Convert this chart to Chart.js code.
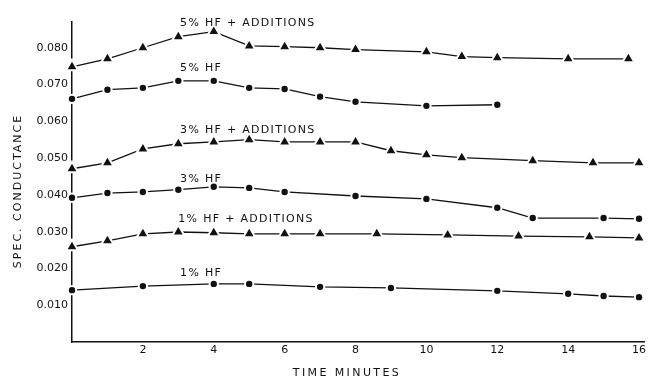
<!DOCTYPE html>
<html>
<head>
<meta charset="utf-8">
<script src="https://cdn.jsdelivr.net/npm/chart.js@4.4.1/dist/chart.umd.min.js"></script>
<style>
  html, body { margin: 0; padding: 0; background: #fff; }
  #wrap { width: 653px; height: 380px; }
</style>
</head>
<body>
<div id="wrap"><canvas id="myChart" width="653" height="380"></canvas></div>
<script>
// time in minutes, specific conductance
const times5a = [0, 1, 2, 3, 4, 5, 6, 7, 8, 10, 11, 12, 14, 15.7];
const cond5a = [0.0748, 0.0770, 0.0800, 0.0830, 0.0844, 0.0805, 0.0803, 0.0800, 0.0795, 0.0789, 0.0776, 0.0773, 0.0770, 0.0770];

const times5 = [0, 1, 2, 3, 4, 5, 6, 7, 8, 10, 12];
const cond5 = [0.0661, 0.0686, 0.0691, 0.0710, 0.0710, 0.0691, 0.0688, 0.0667, 0.0653, 0.0642, 0.0645];

const times3a = [0, 1, 2, 3, 4, 5, 6, 7, 8, 9, 10, 11, 13, 14.7, 16];
const cond3a = [0.0471, 0.0487, 0.0525, 0.0539, 0.0544, 0.0550, 0.0544, 0.0544, 0.0544, 0.0520, 0.0509, 0.0501, 0.0493, 0.0487, 0.0487];

const times3 = [0, 1, 2, 3, 4, 5, 6, 8, 10, 12, 13, 15, 16];
const cond3 = [0.0392, 0.0405, 0.0408, 0.0414, 0.0422, 0.0419, 0.0408, 0.0397, 0.0389, 0.0365, 0.0337, 0.0337, 0.0335];

const times1a = [0, 1, 2, 3, 4, 5, 6, 7, 8.6, 10.6, 12.6, 14.6, 16];
const cond1a = [0.0259, 0.0275, 0.0294, 0.0299, 0.0297, 0.0294, 0.0294, 0.0294, 0.0294, 0.0291, 0.0288, 0.0286, 0.0283];

const times1 = [0, 2, 4, 5, 7, 9, 12, 14, 15, 16];
const cond1 = [0.0141, 0.0152, 0.0158, 0.0158, 0.0150, 0.0147, 0.0139, 0.0131, 0.0125, 0.0122];

const xTicks = [2, 4, 6, 8, 10, 12, 14, 16];
const yTicks = [0.01, 0.02, 0.03, 0.04, 0.05, 0.06, 0.07, 0.08];

const seriesNames = ["5% HF + ADDITIONS", "5% HF", "3% HF + ADDITIONS", "3% HF", "1% HF + ADDITIONS", "1% HF"];
// where each curve's name sits, in chart units (minutes, conductance)
const nameTimes = [3.05, 3.05, 3.05, 3.05, 3.0, 3.05];
const nameValues = [0.0866, 0.0745, 0.0575, 0.0444, 0.0335, 0.0188];

const ink = "#111";

function pts(xs, ys) {
  return xs.map((x, i) => ({ x: x, y: ys[i] }));
}

function series(label, xs, ys, shape) {
  return {
    label: label,
    data: pts(xs, ys),
    borderColor: ink,
    borderWidth: 1.3,
    pointStyle: shape,
    pointRadius: shape === "triangle" ? 7 : 4.2,
    pointBackgroundColor: ink,
    pointBorderColor: "#fff",
    pointBorderWidth: 2,
    tension: 0,
    clip: false,
  };
}

const namesPlugin = {
  id: "names",
  afterDraw(chart) {
    const ctx = chart.ctx;
    const x = chart.scales.x;
    const y = chart.scales.y;
    ctx.save();
    ctx.fillStyle = ink;
    ctx.font = "11px 'DejaVu Sans'";
    ctx.letterSpacing = "1.3px";
    ctx.textAlign = "left";
    ctx.textBaseline = "middle";
    seriesNames.forEach((name, i) => {
      ctx.fillText(name, x.getPixelForValue(nameTimes[i]), y.getPixelForValue(nameValues[i]));
    });

    // axis titles
    ctx.letterSpacing = "2.4px";
    ctx.textAlign = "center";
    ctx.fillText("TIME MINUTES", 347, 373);
    ctx.letterSpacing = "2px";
    ctx.translate(18, 191);
    ctx.rotate(-Math.PI / 2);
    ctx.fillText("SPEC. CONDUCTANCE", 0, 0);
    ctx.restore();
  },
};

new Chart(document.getElementById("myChart"), {
  type: "line",
  data: {
    datasets: [
      series("5% HF + ADDITIONS", times5a, cond5a, "triangle"),
      series("5% HF", times5, cond5, "circle"),
      series("3% HF + ADDITIONS", times3a, cond3a, "triangle"),
      series("3% HF", times3, cond3, "circle"),
      series("1% HF + ADDITIONS", times1a, cond1a, "triangle"),
      series("1% HF", times1, cond1, "circle"),
    ],
  },
  options: {
    responsive: false,
    animation: false,
    devicePixelRatio: 1,
    layout: { padding: { top: 22, right: 0, left: 0, bottom: 0 } },
    plugins: {
      legend: { display: false },
      tooltip: { enabled: false },
    },
    scales: {
      x: {
        type: "linear",
        min: 0,
        max: 16.14,
        afterBuildTicks: (scale) => {
          scale.ticks = xTicks.map((v) => ({ value: v }));
        },
        afterFit: (scale) => {
          scale.height = 38;
        },
        grid: { display: false, drawTicks: false },
        border: { display: true, color: ink, width: 1.5 },
        ticks: {
          color: ink,
          font: { family: "DejaVu Sans", size: 11 },
          padding: 2,
          maxRotation: 0,
          callback: (v) => String(v),
        },
      },
      y: {
        type: "linear",
        min: 0,
        max: 0.087,
        afterBuildTicks: (scale) => {
          scale.ticks = yTicks.map((v) => ({ value: v }));
        },
        afterFit: (scale) => {
          scale.width = 72;
        },
        grid: { display: false, drawTicks: false },
        border: { display: true, color: ink, width: 1.5 },
        ticks: {
          color: ink,
          font: { family: "DejaVu Sans", size: 11 },
          padding: 4,
          callback: (v) => v.toFixed(3),
        },
      },
    },
  },
  plugins: [namesPlugin],
});
</script>
</body>
</html>
